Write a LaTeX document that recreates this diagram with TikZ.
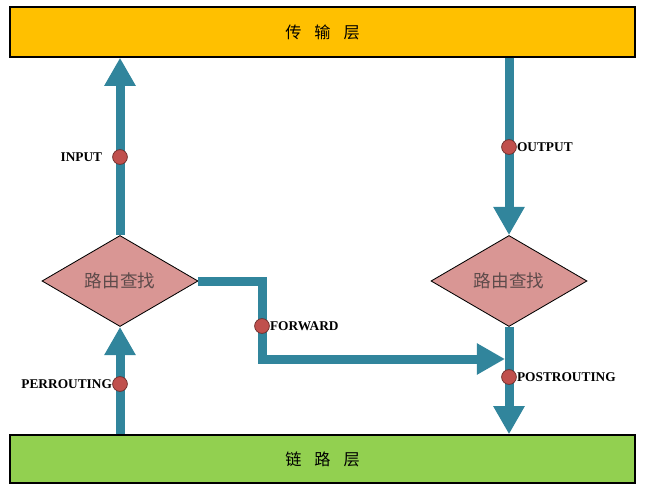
\documentclass[tikz,border=0pt]{standalone}
\usepackage{fontspec}
\setmainfont{Liberation Serif}
\newfontfamily\cjk{Noto Sans CJK SC}
\usetikzlibrary{shapes,arrows.meta,calc}
\definecolor{transorange}{HTML}{FFC000}
\definecolor{linkgreen}{HTML}{92D050}
\definecolor{lookpink}{HTML}{D99694}
\definecolor{lookgray}{HTML}{5E4B4B}
\definecolor{flowteal}{HTML}{31859C}
\definecolor{hookred}{HTML}{C0504D}

\begin{document}
\begin{tikzpicture}[x=0.025cm,y=-0.025cm,
	layer/.style={draw=black,line width=1pt,minimum width=15.625cm,font=\cjk\fontsize{11.5}{13}\selectfont},
	lookup/.style={diamond,draw=black,line width=0.6pt,fill=lookpink,aspect=1.7,inner sep=0pt,
		minimum width=3.9cm,minimum height=2.275cm,font=\cjk\fontsize{12.5}{14}\selectfont,text=lookgray},
	flow/.style={line width=6.4pt,draw=flowteal,line join=miter,-{Triangle[width=21pt,length=20pt]}},
	hook/.style={circle,fill=hookred,draw=hookred!55!black,line width=0.5pt,minimum size=0.37cm,inner sep=0pt,label distance=0.5pt},
	hooklabel/.style={font=\fontsize{9.5}{11}\selectfont\bfseries,inner sep=0pt}]
\useasboundingbox (0,0) rectangle (645,492);

\node[layer,fill=transorange,minimum height=1.25cm] (trans) at (322.5,32) {传\hspace{0.8em}输\hspace{0.8em}层};
\node[layer,fill=linkgreen,minimum height=1.2cm] (link) at (322.5,459) {链\hspace{0.8em}路\hspace{0.8em}层};
\node[lookup] (ldiam) at (120,281) {路由查找};
\node[lookup] (rdiam) at (509,281) {路由查找};
\coordinate (merge) at (505,359);
\coordinate (fwdx) at (262,0);

\draw[flow] (ldiam.south |- link.north) -- (ldiam.south);
\draw[flow] (ldiam.north) -- (ldiam.north |- trans.south);
\draw[flow] (rdiam.north |- trans.south) -- (rdiam.north);
\draw[flow] (rdiam.south) -- (rdiam.south |- link.north);
\draw[flow] (ldiam.east) -| (fwdx |- merge) -- (merge);

\node[hook,label={[hooklabel,label distance=7pt]left:INPUT}] (input) at (120,157) {};
\node[hook,label={[hooklabel]left:PERROUTING}] (prerouting) at (120,384) {};
\node[hook,label={[hooklabel]right:FORWARD}] (forward) at (262,326) {};
\node[hook,label={[hooklabel]right:OUTPUT}] (output) at (509,147) {};
\node[hook,label={[hooklabel]right:POSTROUTING}] (postrouting) at (509,377) {};
\end{tikzpicture}
\end{document}
